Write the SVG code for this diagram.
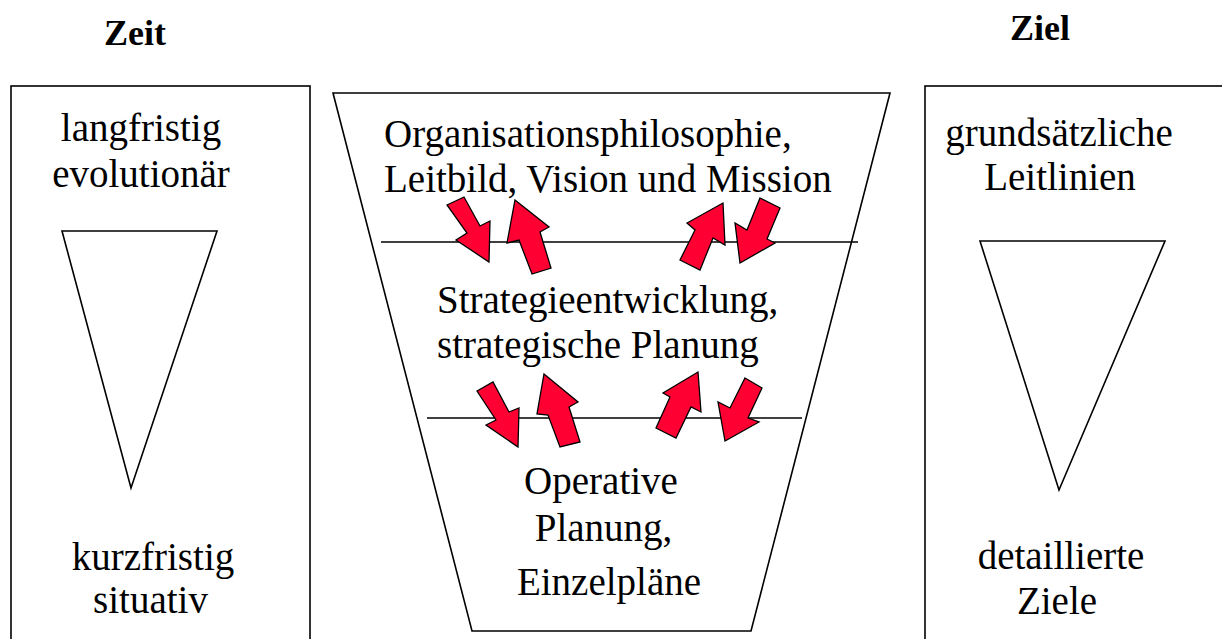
<svg xmlns="http://www.w3.org/2000/svg" width="1222" height="639" viewBox="0 0 1222 639">
<style>
.t{font-family:"Liberation Serif","Times New Roman",serif;font-size:39px;fill:#000}
.h{font-family:"Liberation Serif","Times New Roman",serif;font-size:36px;font-weight:bold;fill:#000}
.m{text-anchor:middle}
.box{fill:#fff;stroke:#000;stroke-width:1.6}
.ln{stroke:#000;stroke-width:1.6;fill:none}
.arr{fill:#FF0033;stroke:#000;stroke-width:1.3;stroke-linejoin:miter}
</style>
<rect width="1222" height="639" fill="#fff"/>
<g id="zeit">
<text class="h m" x="135" y="45">Zeit</text>
<rect class="box" x="11" y="86" width="299" height="580"/>
<text class="t m" x="141" y="141">langfristig</text>
<text class="t m" x="141" y="187">evolutionär</text>
<polygon class="box" points="62,231 217,231 131,488"/>
<text class="t m" x="153" y="570">kurzfristig</text>
<text class="t m" x="150.5" y="613">situativ</text>
</g>
<g id="ziel">
<text class="h m" x="1040" y="40">Ziel</text>
<rect class="box" x="925" y="86" width="310" height="580"/>
<text class="t m" x="1059" y="146">grundsätzliche</text>
<text class="t m" x="1060" y="190">Leitlinien</text>
<polygon class="box" points="980,241 1165,241 1059,490"/>
<text class="t m" x="1061" y="569">detaillierte</text>
<text class="t m" x="1057" y="614">Ziele</text>
</g>
<g id="trichter">
<polygon class="box" points="333,93 890,93 751,631 472,631"/>
<line class="ln" x1="381" y1="242" x2="858" y2="242"/>
<line class="ln" x1="427" y1="418" x2="802" y2="418"/>
</g>
<g id="ebene1">
<text class="t" x="384" y="147">Organisationsphilosophie,</text>
<text class="t" x="384" y="192">Leitbild, Vision und Mission</text>
</g>
<g id="ebene2">
<text class="t" x="437" y="313">Strategieentwicklung,</text>
<text class="t" x="437" y="358">strategische Planung</text>
</g>
<g id="ebene3">
<text class="t m" x="601" y="494">Operative</text>
<text class="t m" x="603.5" y="541">Planung,</text>
<text class="t m" x="609" y="595">Einzelpläne</text>
</g>
<g id="connectors">
<polygon class="arr" points="447,205 464,197 480,226 490,221 489,262 456,240 467,233"/>
<polygon class="arr" points="515,200 549,227 540,232 551,268 532,274 519,240 507,243"/>
<polygon class="arr" points="723,203 725,245 713,238 700,270 680,260 695,230 687,223"/>
<polygon class="arr" points="760,198 780,208 767,239 775,243 740,263 735,223 747,230"/>
<polygon class="arr" points="477,391 493,382 509,412 519,408 518,447 486,425 496,420"/>
<polygon class="arr" points="544,374 578,402 569,407 580,442 560,447 548,415 537,414"/>
<polygon class="arr" points="698,372 701,412 691,407 676,438 656,428 670,397 663,393"/>
<polygon class="arr" points="745,378 762,388 748,418 759,422 725,441 718,402 730,408"/>
</g>
</svg>
